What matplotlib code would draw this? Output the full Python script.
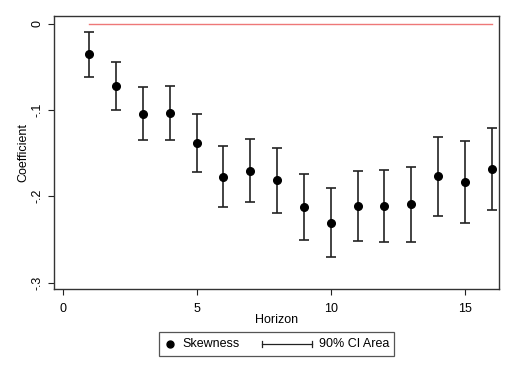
import numpy as np
import matplotlib
matplotlib.use("Agg")
import matplotlib.pyplot as plt
from matplotlib.lines import Line2D
from matplotlib.offsetbox import (AnchoredOffsetbox, DrawingArea, HPacker,
                                  TextArea)

plt.rcParams['font.family'] = ['Liberation Sans', 'DejaVu Sans']

# horizons and estimates
horizon = np.arange(1, 17)
coef = [-0.0355, -0.0722, -0.1046, -0.1035, -0.1386, -0.1773, -0.1703, -0.1815,
        -0.2120, -0.2306, -0.2112, -0.2112, -0.2093, -0.1768, -0.1834, -0.1684]
ci_upper = [-0.0096, -0.0440, -0.0737, -0.0718, -0.1043, -0.1417, -0.1336, -0.1437,
            -0.1738, -0.1907, -0.1703, -0.1695, -0.1657, -0.1316, -0.1363, -0.1205]
ci_lower = [-0.0614, -0.1004, -0.1351, -0.1351, -0.1722, -0.2128, -0.2070, -0.2190,
            -0.2510, -0.2703, -0.2522, -0.2530, -0.2530, -0.2225, -0.2306, -0.2162]

xticks = [0, 5, 10, 15]
yticks = [0, -0.1, -0.2, -0.3]
ytick_labels = ['0', '-.1', '-.2', '-.3']

coef = np.array(coef)
err = np.vstack([coef - np.array(ci_lower), np.array(ci_upper) - coef])

fig = plt.figure(figsize=(5.09, 3.73), dpi=100, facecolor='white')
ax = fig.add_axes([0.1067, 0.2244, 0.8743, 0.7336])

ax.plot([horizon[0], horizon[-1]], [0, 0], color='#ee7878', lw=1.0, zorder=1)
ax.errorbar(horizon, coef, yerr=err, fmt='none', ecolor='#222222',
            elinewidth=1.2, capsize=3.4, capthick=1.2, zorder=2)
ax.plot(horizon, coef, 'o', color='black', markersize=5.5, zorder=3)

ax.set_xlim(-0.31, 16.29)
ax.set_ylim(-0.3078, 0.0093)
ax.set_xticks(xticks)
ax.set_yticks(yticks)
ax.set_yticklabels(ytick_labels, rotation=90, va='center')
ax.tick_params(axis='both', direction='out', length=4, width=0.8,
               labelsize=9, color='#222222')
ax.tick_params(axis='x', pad=6)
ax.tick_params(axis='y', pad=4)
for s in ax.spines.values():
    s.set_color('#333333')
    s.set_linewidth(1.0)

ax.set_xlabel('Horizon', fontsize=9, labelpad=-1)
ax.set_ylabel('Coefficient', fontsize=9, labelpad=1)

# legend box built by hand
fs = 9
da1 = DrawingArea(8, 10)
da1.add_artist(Line2D([4], [5], marker='o', color='black', markersize=5))
t1 = TextArea('Skewness', textprops=dict(fontsize=fs))
gap = DrawingArea(6, 1)
da2 = DrawingArea(36, 10)
da2.add_artist(Line2D([0, 36], [5, 5], color='#222222', lw=0.9))
da2.add_artist(Line2D([0, 0], [3, 7], color='#222222', lw=0.9))
da2.add_artist(Line2D([36, 36], [3, 7], color='#222222', lw=0.9))
t2 = TextArea('90% CI Area', textprops=dict(fontsize=fs))
box = HPacker(children=[da1, t1, gap, da2, t2], align='center', pad=0, sep=5)
anch = AnchoredOffsetbox(loc='center', child=box, pad=0.35, borderpad=0,
                         frameon=True, bbox_to_anchor=(0.5437, 0.0777),
                         bbox_transform=fig.transFigure)
anch.patch.set_edgecolor('#555555')
anch.patch.set_linewidth(0.9)
fig.add_artist(anch)

fig.savefig('out.png', dpi=100, facecolor='white')
